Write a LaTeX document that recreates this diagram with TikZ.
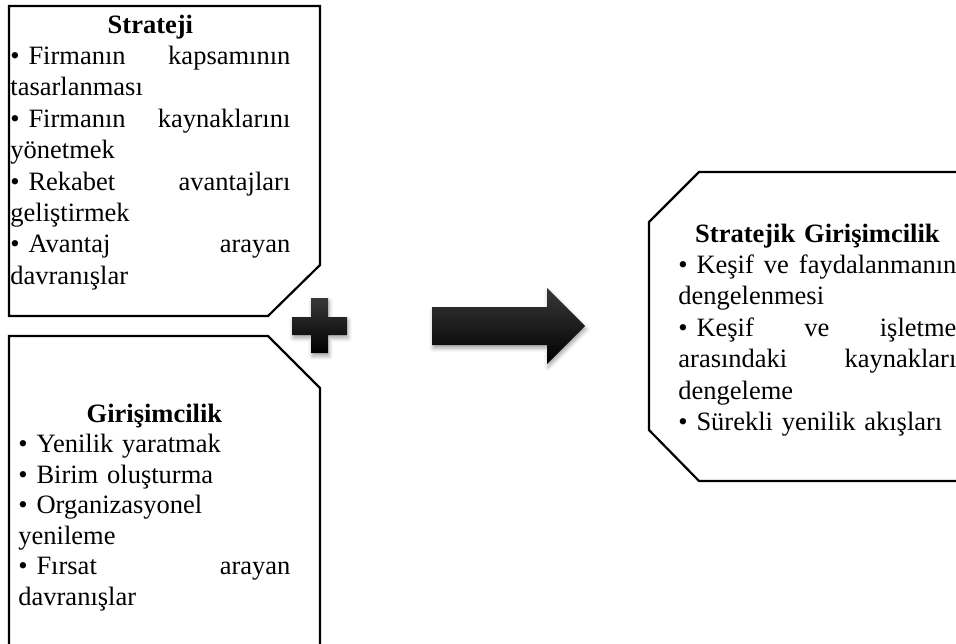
\documentclass[tikz,border=0pt]{standalone}
\usepackage{fontspec}
\setmainfont{Liberation Serif}
\usetikzlibrary{shadows.blur}

\begin{document}
\begin{tikzpicture}[x=0.5pt,y=-0.5pt]
		\tikzset{BoxStyle/.style = {draw=black,line width=1.1pt,fill=white}}
		\tikzset{TextStyle/.style = {anchor=base west,inner sep=0pt,align=left,font=\fontsize{13.25}{15.7}\selectfont}}
		\tikzset{SignStyle/.style = {top color=black!78,middle color=black,bottom color=black,
			blur shadow={shadow xshift=0.6pt,shadow yshift=-1.6pt,shadow blur radius=2pt,shadow opacity=35}}}
		\useasboundingbox (0,0) rectangle (956,643);
		\clip (0,0) rectangle (956,643);
		%\draw[help lines] (0,0) grid[step=50] (956,643);
		\draw[BoxStyle] (9,6) -- (320,6) -- (320,265) -- (268,316) -- (9,316) -- cycle;
		\draw[BoxStyle] (9,670) -- (9,336) -- (268,336) -- (320,388) -- (320,670) -- cycle;
		\draw[BoxStyle] (1000,172) -- (699,172) -- (649,222) -- (649,430) -- (699,481) -- (1000,481) -- cycle;
		{
			\tikzset{TextStyle/.append style = {text width=140pt}}
			\node[TextStyle] (S) at (10,33) {\makebox[\linewidth]{\bfseries Strateji}\\
				• Firmanın\hfill kapsamının\\
				tasarlanması\\
				• Firmanın\hfill kaynaklarını\\
				yönetmek\\
				• Rekabet\hfill avantajları\\
				geliştirmek\\
				• Avantaj\hfill arayan\\
				davranışlar};
		}
		{
			\tikzset{TextStyle/.append style = {text width=136pt,font=\fontsize{13.25}{15.25}\selectfont}}
			\node[TextStyle] (G) at (18,422) {\makebox[\linewidth]{\bfseries Girişimcilik}\\
				• Yenilik yaratmak\\
				• Birim oluşturma\\
				• Organizasyonel\\
				yenileme\\
				• Fırsat\hfill arayan\\
				davranışlar};
		}
		{
			\tikzset{TextStyle/.append style = {text width=139pt}}
			\node[TextStyle] (SG) at (678,242) {\makebox[\linewidth]{\bfseries Stratejik Girişimcilik}\\
				• Keşif\hfill ve\hfill faydalanmanın\\
				dengelenmesi\\
				• Keşif\hfill ve\hfill işletme\\
				arasındaki\hfill kaynakları\\
				dengeleme\\
				• Sürekli yenilik akışları};
		}
		% plus sign and arrow
		\path[SignStyle] (311,298) -- (328,298) -- (328,317) -- (347,317) -- (347,335) -- (328,335)
			-- (328,353) -- (311,353) -- (311,335) -- (292,335) -- (292,317) -- (311,317) -- cycle;
		\path[SignStyle] (432,307) -- (547,307) -- (547,288) -- (585,326) -- (547,364) -- (547,345)
			-- (432,345) -- cycle;
	\end{tikzpicture}
\end{document}
